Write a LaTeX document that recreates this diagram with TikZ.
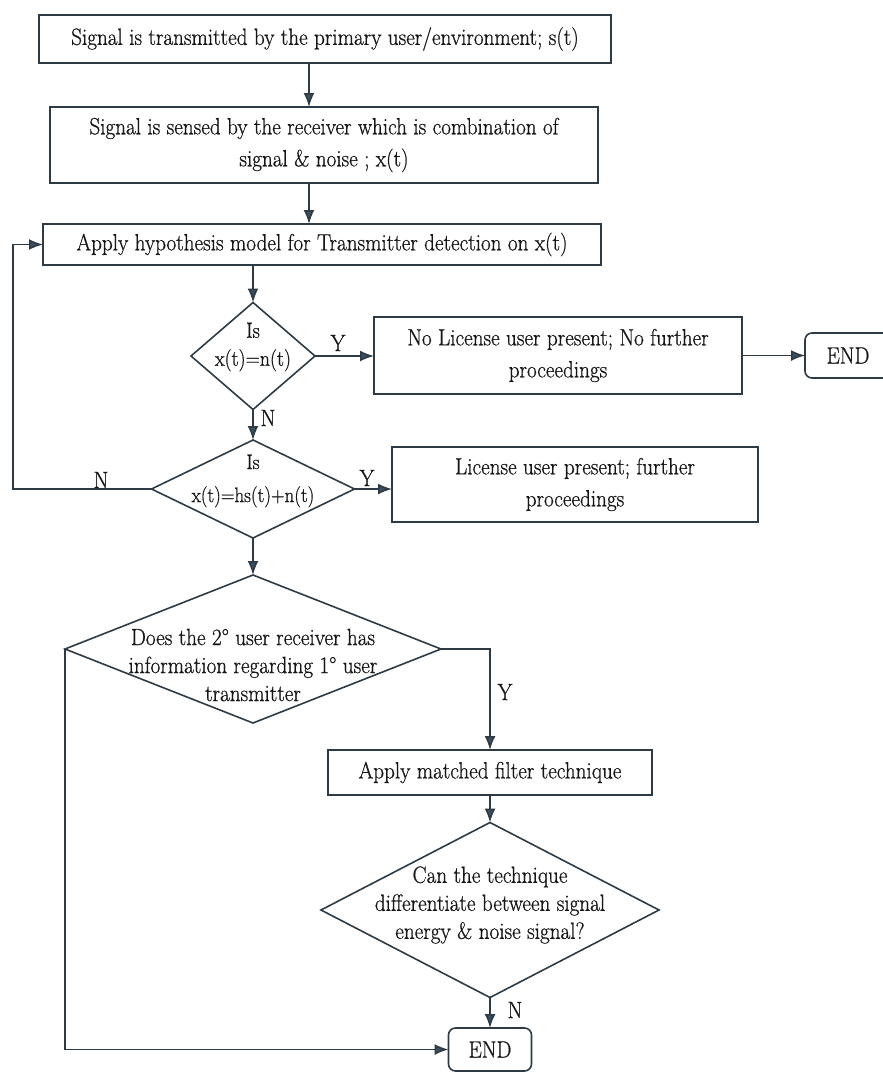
\documentclass[tikz,border=0pt]{standalone}
\usepackage{fontspec}
\setmainfont{Latin Modern Roman}[FakeStretch=0.9, FakeBold=0.7]
\usetikzlibrary{shapes.geometric,arrows.meta}
\definecolor{lineink}{HTML}{2E3B44}
\definecolor{tipink}{HTML}{3A5060}
\definecolor{textink}{HTML}{161616}
\tikzset{
  every node/.style={text=textink},
  dtxt/.style={font={\fontsize{23.5}{28}\selectfont}, align=center, inner sep=0pt},
  procbox/.style={draw=lineink, line width=1.6pt, rectangle, inner sep=0pt, outer sep=0pt,
    font={\fontsize{23.5}{32}\selectfont}, align=center},
  endbox/.style={procbox, rounded corners=7pt},
  decision/.style={draw=lineink, line width=1.6pt, diamond, inner sep=0pt, outer sep=0pt},
  flow/.style={draw=lineink, line width=1.6pt, -{Latex[length=14pt,width=11pt,fill=tipink]}},
  tag/.style={font={\fontsize{23.5}{28}\selectfont}, inner sep=0pt}
}
\begin{document}
\begin{tikzpicture}[x=1pt,y=-1pt]
\useasboundingbox (0,0) rectangle (883,1073);

% process boxes
\node[procbox, minimum width=572, minimum height=48] (b1) at (325,39)
  {Signal is transmitted by the primary user/environment; s(t)};
\node[procbox, minimum width=548, minimum height=76] (b2) at (324,145)
  {Signal is sensed by the receiver which is combination of\\signal \& noise ; x(t)};
\node[procbox, minimum width=558, minimum height=41] (b3) at (322,244.5)
  {Apply hypothesis model for Transmitter detection on x(t)};
\node[procbox, minimum width=368, minimum height=77] (b4) at (558,355.5)
  {No License user present; No further\\proceedings};
\node[endbox, minimum width=86, minimum height=45] (e1) at (848,355.5) {END};
\node[procbox, minimum width=366, minimum height=75] (b5) at (575,484.5)
  {License user present; further\\proceedings};
\node[procbox, minimum width=324, minimum height=45] (b6) at (490,772.5)
  {Apply matched filter technique};
\node[endbox, minimum width=83, minimum height=43] (e2) at (490,1049.5) {END};

% decisions
\node[decision, minimum width=124, minimum height=107] (d1) at (253,356) {};
\node[dtxt, font={\fontsize{22}{28}\selectfont}] (d1t) at (253,347) {Is\\x(t)=n(t)};
\node[decision, minimum width=203, minimum height=98] (d2) at (253,489) {};
\node[dtxt, font={\fontsize{21}{33}\selectfont}] (d2t) at (253,481) {Is\\x(t)=hs(t)+n(t)};
\node[decision, minimum width=376, minimum height=148] (d3) at (253,649) {};
\node[dtxt] (d3t) at (253,665) {Does the 2\textdegree{} user receiver has\\information regarding 1\textdegree{} user\\transmitter};
\node[decision, minimum width=338, minimum height=175] (d4) at (490,910) {};
\node[dtxt] (d4t) at (490,905) {Can the technique\\differentiate between signal\\energy \& noise signal?};

% helper columns
\coordinate (c1) at (309,0);
\coordinate (loopx) at (13,0);

% main flow
\draw[flow] (b1.south -| c1) -- (b2.north -| c1);
\draw[flow] (b2.south -| c1) -- (b3.north -| c1);
\draw[flow] (b3.south -| d1.north) -- (d1.north);
\draw[flow] (d1.east) -- (d1.east -| b4.west);
\draw[flow] (b4.east) -- (e1.west);
\draw[flow] (d1.south) -- (d2.north);
\draw[flow] (d2.east) -- (d2.east -| b5.west);
\draw[flow] (d2.west) -- (d2.west -| loopx) |- (b3.west);
\draw[flow] (d2.south) -- (d3.north);
\draw[flow] (d3.east) -| (b6.north);
\draw[flow] (b6.south) -- (d4.north);
\draw[flow] (d4.south) -- (e2.north);
\draw[flow] (d3.west) |- (e2.west);

% branch labels
\node[tag] (y1) at (338,343) {Y};
\node[tag] (n1) at (268,418) {N};
\node[tag] (y2) at (367,478) {Y};
\node[tag] (n2) at (101,480) {N};
\node[tag] (y3) at (505,692) {Y};
\node[tag] (n3) at (515,1010) {N};
\end{tikzpicture}
\end{document}
